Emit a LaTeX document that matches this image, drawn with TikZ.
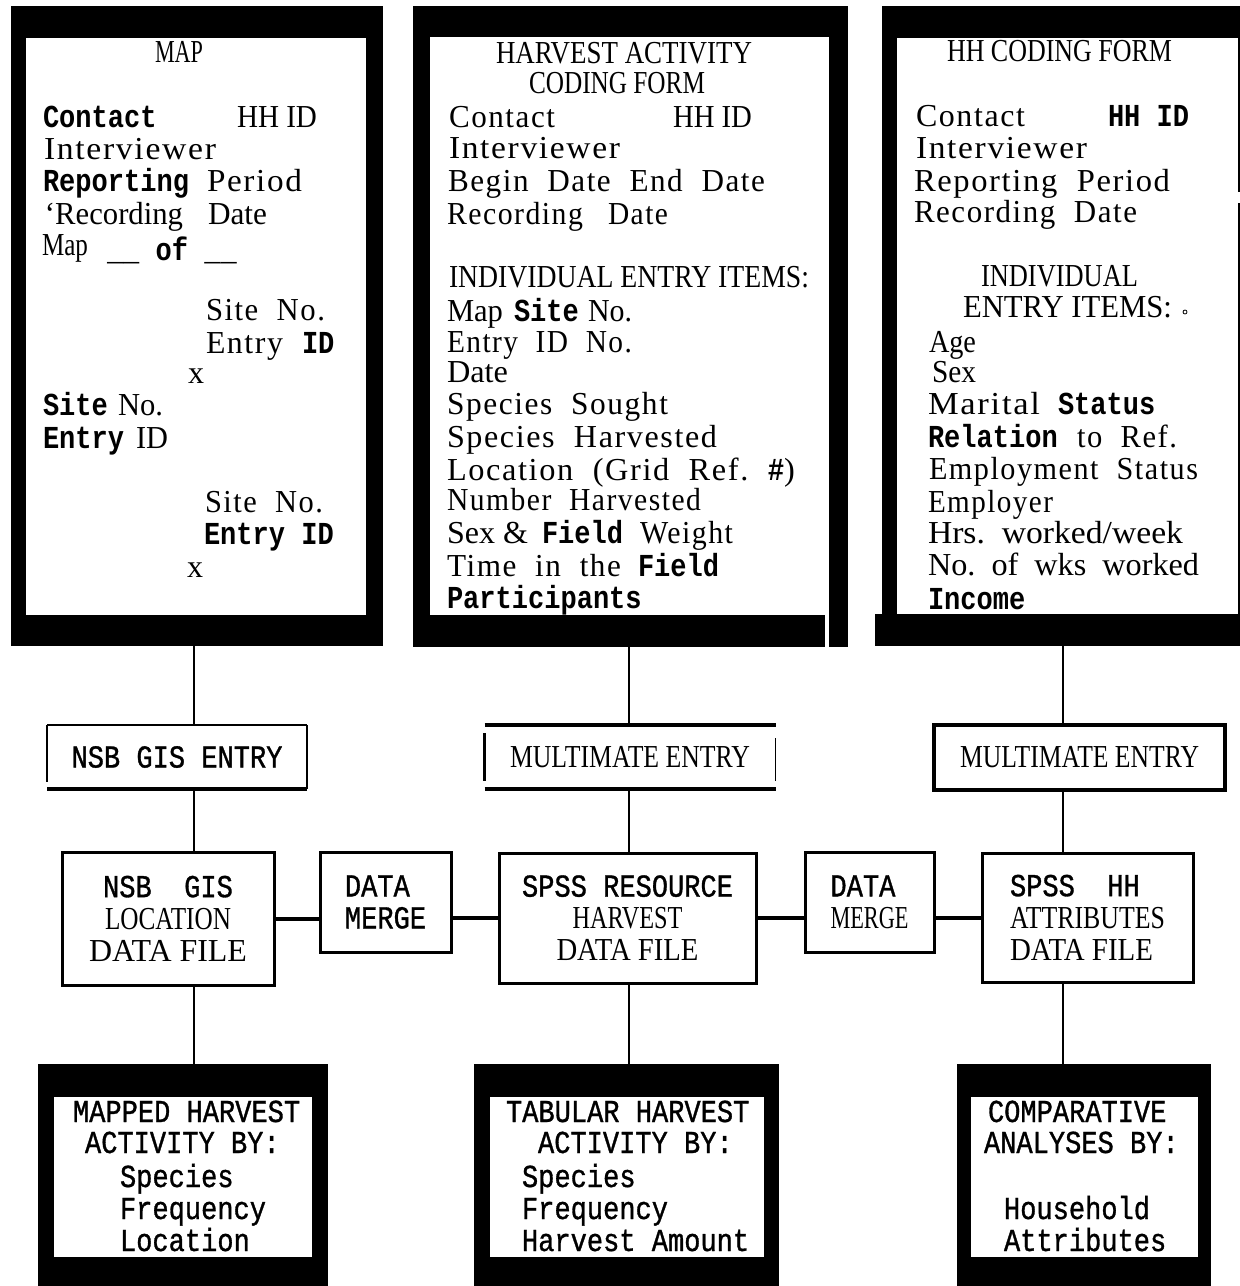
\documentclass[tikz,border=0pt]{standalone}
\usepackage{fontspec}
\usepackage{graphicx}
\setmainfont{Liberation Serif}
\newfontfamily\fsp[LetterSpace=5]{Liberation Serif}
\newfontfamily\fcd[FakeStretch=0.85]{Liberation Serif}
\newfontfamily\fmo[FakeStretch=0.845]{Liberation Mono}
\newfontfamily\fty[FakeStretch=0.845,FakeBold=1]{Liberation Mono}
\newcommand\mb[1]{{\fmo\bfseries #1}}
\newcommand\RS[2]{\resizebox{#1pt}{\height}{#2}}
\newcommand\T[5]{\node[txt] (#1) at (#2,#3) {\resizebox{#4pt}{\height}{#5}};}
\newcommand\N[4]{\node[txt] (#1) at (#2,#3) {#4};}
\begin{document}
\begin{tikzpicture}[x=1pt,y=-1pt,
  txt/.style={anchor=base west,inner sep=0pt,outer sep=0pt,font=\fontsize{32}{32}\selectfont},
  frame/.style={fill=black,draw=none,inner sep=0pt,outer sep=0pt},
  conn/.style={line width=2.2pt},
  hconn/.style={line width=4pt},
  mid/.style={inner sep=0pt,outer sep=0pt,font=\fontsize{32}{32}\selectfont},
  fbox/.style={mid,draw,line width=3pt},
]
\useasboundingbox (0,0) rectangle (1240,1286);
\fill[white] (0,0) rectangle (1240,1286);

\coordinate (cxL) at (194,0);
\coordinate (cxM) at (629,0);
\coordinate (cxR) at (1063,0);

% ---------- top frames ----------
\node[frame,minimum width=372pt,minimum height=640pt] (map) at (197,326) {};
\fill[white] (26,38) rectangle (366,615);
\node[frame,minimum width=435pt,minimum height=641pt] (har) at (630.5,326.5) {};
\fill[white] (430,37) rectangle (829,615);
\fill[white] (825,615) rectangle (829,647);
\node[frame,minimum width=360pt,minimum height=640pt] (hh) at (1062,326) {};
\fill (875,614) rectangle (882,646);
\fill[white] (897,38) rectangle (1238,614);
\fill[white] (1238,192) rectangle (1242,203);

% ---------- MAP texts ----------
\T{m0}{155}{62}{48}{\fcd MAP}
\N{m1}{43}{127}{\mb{Contact}}
\T{m2}{237}{127}{80}{HH ID}
\T{m3}{44}{159}{172}{\fsp Interviewer}
\N{m4a}{43}{191}{\mb{Reporting}}
\T{m4b}{207}{191}{95}{\fsp Period}
\T{m5a}{45}{224}{138}{‘Recording}
\T{m5b}{208}{224}{59}{Date}
\T{m6a}{42}{255}{46}{\fcd Map}
\N{m6b}{107}{260}{\mb{\_\_ of \_\_}}
\T{m7}{206}{320}{119}{\fsp Site\ \ No.}
\T{m8a}{206}{353}{77}{\fsp Entry}
\N{m8b}{302}{353}{\mb{ID}}
\N{m9}{188}{383}{x}
\N{m10a}{43}{415}{\mb{Site}}
\T{m10b}{118}{415}{45}{No.}
\N{m11a}{43}{448}{\mb{Entry}}
\T{m11b}{136}{448}{32}{ID}
\T{m12}{205}{512}{118}{\fsp Site\ \ No.}
\N{m13}{204}{544}{\mb{Entry ID}}
\N{m14}{187}{577}{x}

% ---------- HARVEST texts ----------
\T{h0}{496}{63}{256}{\fcd HARVEST ACTIVITY}
\T{h1}{529}{93}{176}{\fcd CODING FORM}
\T{h2a}{449}{127}{106}{\fsp Contact}
\T{h2b}{673}{127}{79}{HH ID}
\T{h3}{449}{158}{171}{\fsp Interviewer}
\T{h4}{448}{191}{317}{\fsp Begin\ \ Date\ \ End\ \ Date}
\T{h5a}{447}{224}{136}{\fsp Recording}
\T{h5b}{608}{224}{60}{\fsp Date}
\T{h6}{449}{287}{360}{\fcd INDIVIDUAL ENTRY ITEMS:}
\T{h7a}{447}{321}{56}{Map}
\N{h7b}{514}{321}{\mb{Site}}
\T{h7c}{588}{321}{44}{No.}
\T{h8}{447}{352}{185}{\fsp Entry\ \ ID\ \ No.}
\T{h9}{447}{382}{61}{Date}
\T{h10}{447}{414}{221}{\fsp Species\ \ Sought}
\T{h11}{447}{447}{270}{\fsp Species\ \ Harvested}
\T{h12}{447}{480}{348}{\fsp Location\ \ (Grid\ \ Ref.\ \ {\fmo\bfseries\#})}
\T{h13}{447}{510}{254}{\fsp Number\ \ Harvested}
\T{h14a}{447}{543}{81}{Sex \&}
\N{h14b}{542}{543}{\mb{Field}}
\T{h14c}{640}{543}{93}{\fsp Weight}
\T{h15a}{447}{576}{174}{\fsp Time\ \ in\ \ the}
\N{h15b}{638}{576}{\mb{Field}}
\N{h16}{447}{608}{\mb{Participants}}

% ---------- HH texts ----------
\T{k0}{947}{61}{225}{\fcd HH CODING FORM}
\T{k1a}{916}{126}{109}{\fsp Contact}
\N{k1b}{1108}{126}{\mb{HH ID}}
\T{k2}{916}{158}{171}{\fsp Interviewer}
\T{k3}{914}{191}{256}{\fsp Reporting\ \ Period}
\T{k4}{914}{222}{223}{\fsp Recording\ \ Date}
\T{k5}{981}{286}{157}{\fcd INDIVIDUAL}
\T{k6}{963}{317}{209}{\fcd ENTRY ITEMS:}
\node[circle,draw,inner sep=0pt,minimum size=4pt,line width=0.8pt] (k7) at (1185,312) {};
\T{k8}{929}{352}{47}{Age}
\T{k9}{932}{382}{44}{Sex}
\T{k10a}{928}{414}{112}{\fsp Marital}
\N{k10b}{1058}{414}{\mb{Status}}
\N{k11a}{928}{447}{\mb{Relation}}
\T{k11b}{1077}{447}{100}{\fsp to\ \ Ref.}
\T{k12}{929}{479}{269}{\fsp Employment\ \ Status}
\T{k13}{928}{512}{125}{\fsp Employer}
\T{k14}{928}{543}{255}{Hrs.\ \ worked/week}
\T{k15}{928}{575}{271}{No.\ \ of\ \ wks\ \ worked}
\N{k16}{928}{609}{\mb{Income}}

% ---------- entry row ----------
\node[mid,minimum width=260pt,minimum height=64pt] (e1) at (177,757) {\fty NSB GIS ENTRY};
\draw[line width=1.5pt] (e1.north west) -- (e1.north east);
\draw[line width=1.5pt] (e1.north west) -- ([yshift=7pt]e1.south west);
\draw[line width=1.5pt] (e1.north east) -- (e1.south east);
\draw[line width=4pt] (e1.south west) -- (e1.south east);

\node[mid,minimum width=291pt,minimum height=64pt] (e2) at (630,757) {\RS{240}{\rmfamily MULTIMATE ENTRY}};
\draw[line width=4pt] (e2.north west) -- (e2.north east);
\draw[line width=4pt] (e2.south west) -- (e2.south east);
\draw[line width=3.5pt] ([yshift=-8pt]e2.north west) -- ([yshift=8pt]e2.south west);
\draw[line width=1.5pt] ([yshift=-13pt]e2.north east) -- ([yshift=8pt]e2.south east);

\node[fbox,line width=3.5pt,minimum width=291pt,minimum height=65pt] (e3) at (1079.5,757.5) {\RS{239}{\rmfamily MULTIMATE ENTRY}};

% ---------- file row ----------
\node[fbox,align=center,minimum width=212pt,minimum height=133pt] (f1) at (168,918.5)
  {{\fty NSB\ \ GIS}\\\RS{126}{\rmfamily LOCATION}\\\RS{158}{\rmfamily DATA FILE}};
\node[fbox,align=left,minimum width=131pt,minimum height=100pt] (d1) at (385.5,902)
  {{\fty DATA}\\{\fty MERGE}};
\node[fbox,align=center,minimum width=257pt,minimum height=130pt] (f2) at (627.5,918)
  {{\fty SPSS RESOURCE}\\\RS{110}{\rmfamily HARVEST}\\\RS{142}{\rmfamily DATA FILE}};
\node[fbox,align=left,minimum width=129pt,minimum height=100pt] (d2) at (869.5,902)
  {{\fty DATA}\\\RS{78}{\rmfamily MERGE}};
\node[fbox,align=left,minimum width=211pt,minimum height=129pt] (f3) at (1087.5,917.5)
  {{\fty SPSS\ \ HH}\\\RS{155}{\rmfamily ATTRIBUTES}\\\RS{143}{\rmfamily DATA FILE}};

% ---------- bottom frames ----------
\node[frame,minimum width=290pt,minimum height=222pt] (b1) at (183,1175) {};
\fill[white] (54,1097) rectangle (312,1257);
\node[frame,minimum width=305pt,minimum height=222pt] (b2) at (626.5,1175) {};
\fill[white] (490,1097) rectangle (764,1257);
\node[frame,minimum width=254pt,minimum height=222pt] (b3) at (1084,1175) {};
\fill[white] (971,1097) rectangle (1198,1257);

\N{b1a}{73}{1122}{\fty MAPPED HARVEST}
\N{b1b}{85}{1153}{\fty ACTIVITY BY:}
\N{b1c}{120}{1187}{\fty Species}
\N{b1d}{120}{1219}{\fty Frequency}
\N{b1e}{120}{1251}{\fty Location}
\N{b2a}{506}{1122}{\fty TABULAR HARVEST}
\N{b2b}{538}{1153}{\fty ACTIVITY BY:}
\N{b2c}{522}{1187}{\fty Species}
\N{b2d}{522}{1219}{\fty Frequency}
\N{b2e}{522}{1251}{\fty Harvest Amount}
\N{b3a}{988}{1122}{\fty COMPARATIVE}
\N{b3b}{984}{1153}{\fty ANALYSES BY:}
\N{b3c}{1004}{1219}{\fty Household}
\N{b3d}{1004}{1251}{\fty Attributes}

% ---------- connectors ----------
\draw[conn] (map.south -| cxL) -- (e1.north -| cxL);
\draw[conn] (e1.south -| cxL) -- (f1.north -| cxL);
\draw[conn] (f1.south -| cxL) -- (b1.north -| cxL);
\draw[conn] (har.south -| cxM) -- (e2.north -| cxM);
\draw[conn] (e2.south -| cxM) -- (f2.north -| cxM);
\draw[conn] (f2.south -| cxM) -- (b2.north -| cxM);
\draw[conn] (hh.south -| cxR) -- (e3.north -| cxR);
\draw[conn] (e3.south -| cxR) -- (f3.north -| cxR);
\draw[conn] (f3.south -| cxR) -- (b3.north -| cxR);
\draw[hconn] (f1.east) -- (f1.east -| d1.west);
\draw[hconn] (f2.west -| d1.east) -- (f2.west);
\draw[hconn] (f2.east) -- (f2.east -| d2.west);
\draw[hconn] (f3.west -| d2.east) -- (f3.west);
\end{tikzpicture}
\end{document}
